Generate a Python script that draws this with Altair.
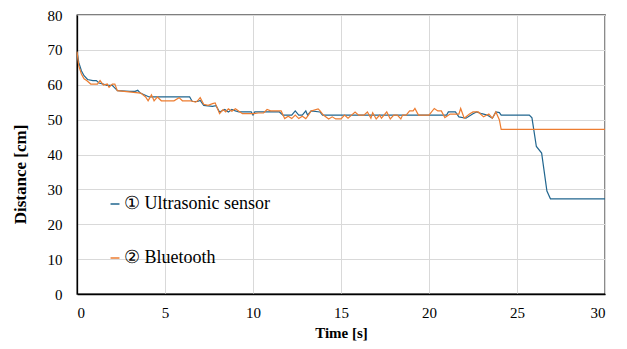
import altair as alt
import pandas as pd

# Series 1: ultrasonic sensor (time [s], distance [cm])
us_t = [0, 0.1, 0.25, 0.4, 0.6, 0.9, 1.1, 1.25, 1.5, 1.7, 2.0, 2.2, 2.3, 3.0, 3.3,
        3.45, 3.6, 4.1, 6.4, 6.55, 6.85, 7.0, 7.2, 7.7, 7.9, 8.1, 8.4, 8.6, 8.8, 9.0,
        9.2, 9.9, 10.0, 10.1, 11.5, 11.7, 12.2, 12.4, 12.6, 12.8, 13.0, 13.1, 13.3, 13.8, 13.95,
        21.0, 21.1, 21.5, 21.7, 22.1, 22.5, 22.7, 23.0, 23.3, 23.6, 23.8, 24.0, 24.1, 25.7, 25.85,
        26.1, 26.4, 26.7, 26.9, 30]
us_v = [69.5, 66.4, 64, 62.6, 61.5, 61.2, 61.2, 60.5, 60.2, 59.8, 59.8, 58.8, 58.3, 58.1, 58.1,
        58.4, 57.6, 56.5, 56.5, 55.2, 55.2, 55.5, 54.1, 53.8, 54.0, 52.2, 52.9, 52.2, 52.9, 52.5,
        52.2, 52.2, 51.3, 52.2, 52.2, 51.3, 51.3, 52.5, 51.3, 51.3, 52.5, 51.3, 52.5, 52.2, 51.3,
        51.3, 52.2, 52.2, 50.8, 50.4, 51.7, 52.2, 51.7, 51.3, 50.4, 52.2, 52.0, 51.3, 51.3, 50.5,
        42.3, 40.4, 29.5, 27.3, 27.3]

# Series 2: bluetooth
bt_t = [0, 0.1, 0.25, 0.4, 0.55, 0.78, 1.16, 1.31, 1.5, 1.72, 1.82, 2.01, 2.15, 2.29, 3.62,
        3.9, 4.04, 4.23, 4.38, 4.57, 4.79, 5.51, 5.8, 5.99, 6.46, 6.74, 6.85, 7.0, 7.2, 7.45,
        7.7, 7.85, 8.1, 8.3, 8.45, 8.6, 8.8, 9.0, 9.2, 9.4, 10.0, 10.3, 10.6, 10.8, 11.0,
        11.6, 11.8, 12.0, 12.2, 12.4, 12.6, 12.8, 13.0, 13.15, 13.3, 13.7, 13.8, 14.0, 14.3, 14.5,
        14.7, 15.0, 15.2, 15.4, 15.6, 15.8, 16.0, 16.3, 16.5, 16.7, 16.8, 17.0, 17.2, 17.3, 17.6,
        17.8, 18.0, 18.2, 18.4, 18.5, 18.7, 18.9, 19.1, 19.2, 19.4, 20.0, 20.3, 20.5, 20.7, 20.9,
        21.2, 21.7, 21.8, 22.0, 22.3, 22.5, 22.8, 23.1, 23.4, 23.6, 23.8, 24.0, 24.1, 30]
bt_v = [69.5, 65.4, 63.1, 61.7, 61.2, 60.2, 60.2, 61.2, 59.9, 60.2, 59.3, 60.2, 60.2, 58.3, 57.6,
        56.5, 55.4, 57.1, 55.4, 56.5, 55.4, 55.4, 56.3, 55.4, 55.4, 55.0, 55.4, 56.3, 54.4, 54.1,
        54.6, 54.8, 51.7, 52.9, 52.2, 53.1, 52.4, 53.1, 52.4, 51.7, 51.7, 51.9, 51.9, 52.9, 52.5,
        52.5, 50.3, 51.0, 50.3, 51.3, 50.3, 51.0, 50.3, 51.3, 52.5, 53.1, 52.6, 51.3, 50.2, 50.8,
        50.2, 50.2, 51.3, 50.4, 51.3, 52.2, 51.3, 51.3, 52.2, 50.4, 52.0, 50.2, 51.3, 50.4, 52.2,
        50.2, 51.3, 51.3, 50.2, 51.3, 51.3, 52.5, 52.5, 53.2, 51.3, 51.3, 53.2, 52.5, 52.5, 50.6,
        51.6, 51.6, 53.2, 50.4, 51.6, 52.2, 52.2, 50.8, 51.6, 50.4, 52.2, 49.9, 47.2, 47.2]

series_names = ["① Ultrasonic sensor", "② Bluetooth"]
series_colors = ["#21668F", "#ED7D31"]

x_ticks = [0, 5, 10, 15, 20, 25, 30]
y_ticks = [0, 10, 20, 30, 40, 50, 60, 70, 80]

df_us = pd.DataFrame({"t": us_t, "v": us_v, "s": series_names[0]})
df_bt = pd.DataFrame({"t": bt_t, "v": bt_v, "s": series_names[1]})

FONT = "Times New Roman"

x_enc = alt.X("t:Q", scale=alt.Scale(domain=[0, 30], nice=False),
              axis=alt.Axis(values=x_ticks, title="Time [s]", ticks=False,
                            labelFont=FONT, titleFont=FONT,
                            labelPadding=11, titlePadding=5))
y_enc = alt.Y("v:Q", scale=alt.Scale(domain=[0, 80], nice=False),
              axis=alt.Axis(values=y_ticks, title="Distance  [cm]", ticks=False,
                            labelFont=FONT, titleFont=FONT, titleFontSize=17,
                            titleY=159,
                            labelPadding=15, titlePadding=18))
color_enc = alt.Color("s:N",
                      scale=alt.Scale(domain=series_names, range=series_colors),
                      legend=alt.Legend(title=None, orient="none", legendX=29, legendY=180,
                                        direction="vertical", rowPadding=36,
                                        symbolType="stroke", symbolSize=80,
                                        symbolStrokeWidth=1.5, labelFont=FONT,
                                        labelFontSize=18, labelColor="black",
                                        labelOffset=0))

base_us = alt.Chart(df_us).mark_line(strokeWidth=1.2).encode(x=x_enc, y=y_enc, color=color_enc)
base_bt = alt.Chart(df_bt).mark_line(strokeWidth=1.2).encode(x=x_enc, y=y_enc, color=color_enc)

chart = alt.layer(base_us, base_bt).properties(
    width=528, height=279,
    autosize=alt.AutoSizeParams(type="none"),
    padding={"left": 69, "top": 7, "right": 12, "bottom": 47},
).configure_view(
    stroke="black", strokeWidth=1.3
).configure_axis(
    labelFont=FONT, labelFontSize=15, labelColor="black",
    titleFont=FONT, titleFontSize=15, titleFontWeight="bold", titleColor="black",
    gridColor="#d9d9d9", gridWidth=1, domainColor="black", domainWidth=1.3,
)

chart.save("out.html", embed_options={"renderer": "svg", "actions": False})
